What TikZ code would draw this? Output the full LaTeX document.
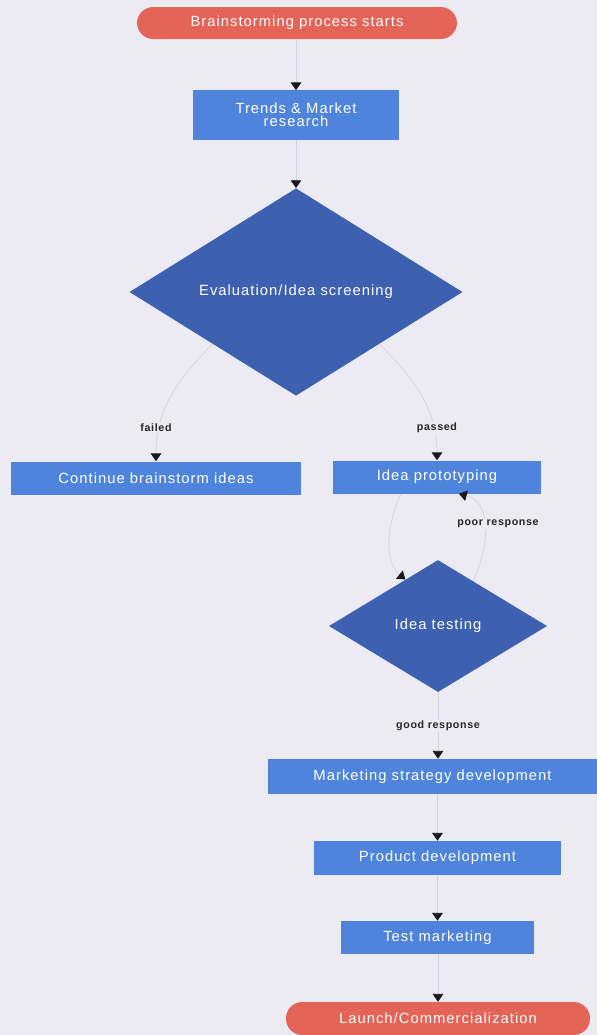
\documentclass[tikz,border=0pt]{standalone}
\usepackage{fontspec}
\setmainfont{Liberation Sans}
\newfontfamily\boxfont{Liberation Sans}[LetterSpace=7]
\newfontfamily\lblfont{Liberation Sans}[LetterSpace=6]
\usepackage{tikz}
\usetikzlibrary{shapes.geometric, arrows.meta}
\definecolor{BgTint}{RGB}{236,234,242}
\definecolor{TermRed}{RGB}{228,100,88}
\definecolor{BoxBlue}{RGB}{78,132,220}
\definecolor{DecBlue}{RGB}{62,96,176}
\definecolor{LinkGrey}{RGB}{212,210,220}

\begin{document}
\begin{tikzpicture}[x=0.025cm, y=-0.025cm,
        term/.style={rectangle, rounded corners=0.41cm, fill=TermRed, text=white, inner sep=0pt,
            font=\boxfont\fontsize{10.5}{12}\selectfont},
        stepbox/.style={rectangle, fill=BoxBlue, text=white, inner sep=0pt,
            font=\boxfont\fontsize{10.5}{12}\selectfont},
        decision/.style={diamond, fill=DecBlue, text=white, inner sep=0pt,
            font=\boxfont\fontsize{10.5}{12}\selectfont},
        flow/.style={draw=LinkGrey, line width=0.5pt, -{Triangle[width=7.5pt, length=5.5pt, color=black!90]}},
        lbl/.style={fill=BgTint, inner sep=1pt, text=black!85,
            font=\lblfont\bfseries\fontsize{7.6}{8}\selectfont}]

        % Draw the background
        \fill[BgTint] (0,0) rectangle (597,1035);
        \useasboundingbox (0,0) rectangle (597,1035);

        % Draw the steps of the process
        \node[term, minimum width=8cm, minimum height=0.8cm] (start) at (297,23) {Brainstorming process starts};
        \node[stepbox, minimum width=5.15cm, minimum height=1.225cm, align=center,
            font=\boxfont\fontsize{10.5}{9.5}\selectfont] (trends) at (296,115) {Trends \& Market\\research};
        \node[decision, minimum width=8.325cm, minimum height=5.125cm] (eval) at (296,292) {Evaluation/Idea screening};
        \node[stepbox, minimum width=7.225cm, minimum height=0.825cm] (cont) at (156,478) {Continue brainstorm ideas};
        \node[stepbox, minimum width=5.2cm, minimum height=0.825cm] (proto) at (437,477) {Idea prototyping};
        \node[decision, minimum width=5.45cm, minimum height=3.3cm] (test) at (438,626) {Idea testing};
        \node[stepbox, minimum width=8.225cm, minimum height=0.875cm] (market) at (432.5,776.5) {Marketing strategy development};
        \node[stepbox, minimum width=6.175cm, minimum height=0.85cm] (product) at (437.5,858) {Product development};
        \node[stepbox, minimum width=4.825cm, minimum height=0.825cm] (testmkt) at (437.5,937.5) {Test marketing};
        \node[term, minimum width=7.6cm, minimum height=0.825cm] (launch) at (438,1018.5) {Launch/Commercialization};

        % Draw the straight links
        \foreach \a/\b in {start/trends, trends/eval, market/product, product/testmkt, testmkt/launch} {
            \draw[flow] (\b.north |- \a.south) -- (\b.north);
        }

        % Draw the branches of the screening
        \draw[flow] (eval.south west) to[out=-135, in=90] (cont.north);
        \draw[flow] (eval.south east) to[out=-45, in=90] (proto.north);

        % Draw the loop between prototyping and testing
        \draw[flow] ([xshift=-0.9cm]proto.south) .. controls (386,525) and (384,562) .. (test.125);
        \draw[flow] (test.52) .. controls (488,550) and (494,503) .. ([xshift=0.55cm]proto.south);
        \draw[flow] (test.south) -- (test.south |- market.north);

        % Label the links
        \node[lbl] (failedlbl) at (156,428) {failed};
        \node[lbl] (passedlbl) at (437,428) {passed};
        \node[lbl] (poorlbl) at (498,524) {poor response};
        \node[lbl] (goodlbl) at (438,726) {good response};
    \end{tikzpicture}
\end{document}
